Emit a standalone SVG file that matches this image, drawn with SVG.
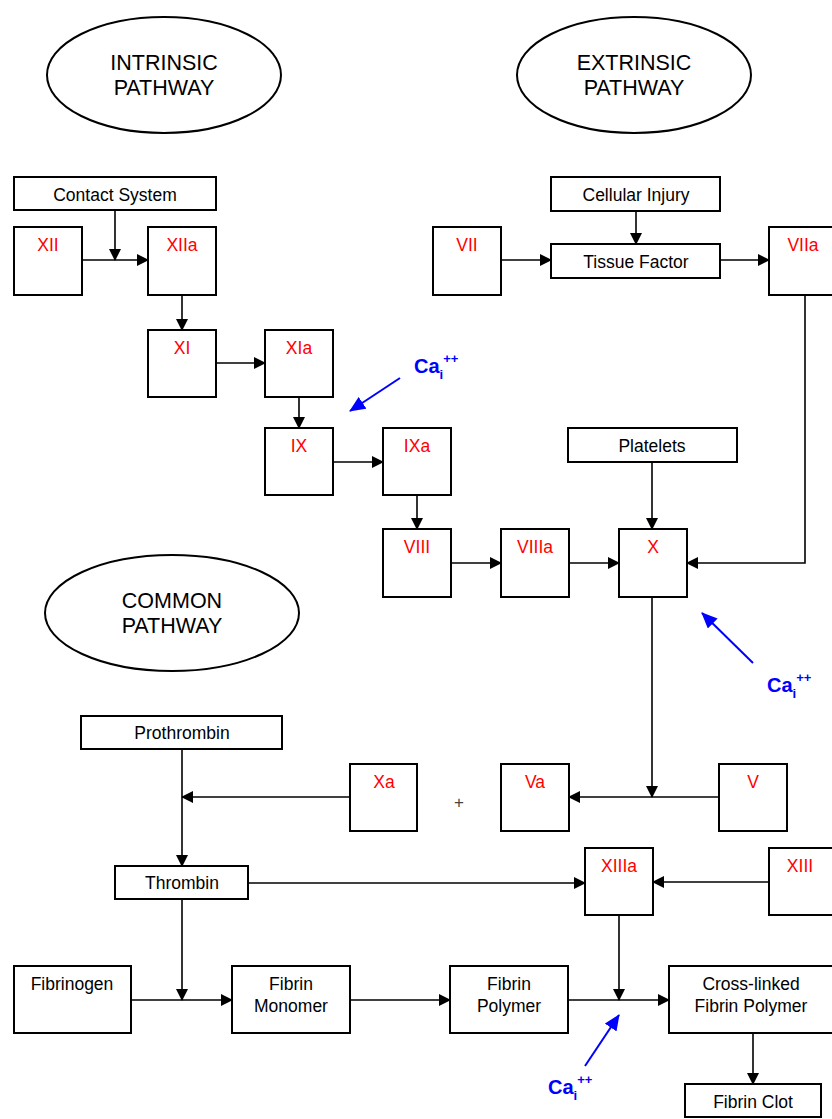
<svg xmlns="http://www.w3.org/2000/svg" width="832" height="1119" viewBox="0 0 832 1119">
<style>
.b{fill:#fff;stroke:#000;stroke-width:2}
.e{fill:#fff;stroke:#000;stroke-width:2}
.t{font-family:"Liberation Sans",Arial,sans-serif;font-size:17.5px;fill:#000;text-anchor:middle}
.r{font-family:"Liberation Sans",Arial,sans-serif;font-size:17.5px;fill:#ff0000;text-anchor:middle}
.h{font-family:"Liberation Sans",Arial,sans-serif;font-size:21.5px;fill:#000;text-anchor:middle}
.ca{font-family:"Liberation Sans",Arial,sans-serif;font-size:20px;font-weight:bold;fill:#0000ff}
.cs{font-family:"Liberation Sans",Arial,sans-serif;font-size:13px;font-weight:bold;fill:#0000ff}
.l{fill:none;stroke:#000;stroke-width:1.6}
.lb{fill:none;stroke:#0000ff;stroke-width:2}
</style>
<defs>
<marker id="a" markerUnits="userSpaceOnUse" markerWidth="12" markerHeight="12" refX="11" refY="6" orient="auto"><path d="M0,0 L12,6 L0,12 Z" fill="#000"/></marker>
<marker id="ab" markerUnits="userSpaceOnUse" markerWidth="16" markerHeight="14" refX="15" refY="7" orient="auto"><path d="M0,0 L16,7 L0,14 Z" fill="#0000ff"/></marker>
</defs>
<rect width="832" height="1119" fill="#fff"/>
<g id="intrinsic-pathway"><ellipse class="e" cx="164" cy="75" rx="117" ry="58"/><text class="h" x="164" y="70">INTRINSIC</text><text class="h" x="164" y="95">PATHWAY</text></g>
<g id="extrinsic-pathway"><ellipse class="e" cx="634" cy="75" rx="117" ry="58"/><text class="h" x="634" y="70">EXTRINSIC</text><text class="h" x="634" y="95">PATHWAY</text></g>
<g id="common-pathway"><ellipse class="e" cx="172" cy="613" rx="127" ry="58"/><text class="h" x="172" y="608">COMMON</text><text class="h" x="172" y="633">PATHWAY</text></g>

<g id="contact-system"><rect class="b" x="14" y="177" width="202" height="33"/><text class="t" x="115" y="201">Contact System</text></g>
<g id="XII"><rect class="b" x="14" y="227" width="68" height="68"/><text class="r" x="48" y="251">XII</text></g>
<g id="XIIa"><rect class="b" x="148" y="227" width="68" height="68"/><text class="r" x="182" y="251">XIIa</text></g>
<g id="XI"><rect class="b" x="148" y="330" width="68" height="67"/><text class="r" x="182" y="354">XI</text></g>
<g id="XIa"><rect class="b" x="265" y="330" width="68" height="67"/><text class="r" x="299" y="354">XIa</text></g>
<g id="IX"><rect class="b" x="265" y="428" width="68" height="67"/><text class="r" x="299" y="452">IX</text></g>
<g id="IXa"><rect class="b" x="383" y="428" width="68" height="67"/><text class="r" x="417" y="452">IXa</text></g>
<g id="VIII"><rect class="b" x="383" y="529" width="68" height="68"/><text class="r" x="417" y="553">VIII</text></g>
<g id="VIIIa"><rect class="b" x="501" y="529" width="68" height="68"/><text class="r" x="535" y="553">VIIIa</text></g>
<g id="X"><rect class="b" x="619" y="529" width="68" height="68"/><text class="r" x="653" y="553">X</text></g>
<g id="platelets"><rect class="b" x="568" y="428" width="169" height="34"/><text class="t" x="652" y="452">Platelets</text></g>

<g id="cellular-injury"><rect class="b" x="551" y="177" width="169" height="34"/><text class="t" x="636" y="201">Cellular Injury</text></g>
<g id="VII"><rect class="b" x="433" y="227" width="68" height="68"/><text class="r" x="467" y="251">VII</text></g>
<g id="tissue-factor"><rect class="b" x="551" y="244" width="169" height="34"/><text class="t" x="636" y="268">Tissue Factor</text></g>
<g id="VIIa"><rect class="b" x="769" y="227" width="70" height="68"/><text class="r" x="803" y="251">VIIa</text></g>

<g id="prothrombin"><rect class="b" x="81" y="716" width="201" height="33"/><text class="t" x="182" y="739">Prothrombin</text></g>
<g id="Xa"><rect class="b" x="350" y="764" width="67" height="67"/><text class="r" x="384" y="788">Xa</text></g>
<g id="plus"><text class="t" x="459" y="808" style="font-size:17px;fill:#444">+</text></g>
<g id="Va"><rect class="b" x="501" y="764" width="68" height="67"/><text class="r" x="535" y="788">Va</text></g>
<g id="V"><rect class="b" x="719" y="764" width="68" height="67"/><text class="r" x="753" y="788">V</text></g>
<g id="thrombin"><rect class="b" x="115" y="866" width="133" height="33"/><text class="t" x="182" y="889">Thrombin</text></g>
<g id="XIIIa"><rect class="b" x="585" y="848" width="68" height="67"/><text class="r" x="619" y="872">XIIIa</text></g>
<g id="XIII"><rect class="b" x="769" y="848" width="70" height="67"/><text class="r" x="800" y="872">XIII</text></g>
<g id="fibrinogen"><rect class="b" x="14" y="966" width="117" height="67"/><text class="t" x="72" y="990">Fibrinogen</text></g>
<g id="fibrin-monomer"><rect class="b" x="232" y="966" width="118" height="67"/><text class="t" x="291" y="990">Fibrin</text><text class="t" x="291" y="1012">Monomer</text></g>
<g id="fibrin-polymer"><rect class="b" x="450" y="966" width="118" height="67"/><text class="t" x="509" y="990">Fibrin</text><text class="t" x="509" y="1012">Polymer</text></g>
<g id="crosslinked"><rect class="b" x="669" y="966" width="168" height="67"/><text class="t" x="751" y="990">Cross-linked</text><text class="t" x="751" y="1012">Fibrin Polymer</text></g>
<g id="fibrin-clot"><rect class="b" x="685" y="1084" width="136" height="33"/><text class="t" x="753" y="1108">Fibrin Clot</text></g>

<g id="calcium-labels">
<text class="ca" x="414" y="373">Ca<tspan class="cs" dy="6">i</tspan><tspan class="cs" dy="-16">++</tspan></text>
<text class="ca" x="767" y="692">Ca<tspan class="cs" dy="6">i</tspan><tspan class="cs" dy="-16">++</tspan></text>
<text class="ca" x="548" y="1094">Ca<tspan class="cs" dy="6">i</tspan><tspan class="cs" dy="-16">++</tspan></text>
</g>

<g id="connectors">
<line class="l" x1="82" y1="260" x2="148" y2="260" marker-end="url(#a)"/>
<line class="l" x1="115" y1="210" x2="115" y2="260" marker-end="url(#a)"/>
<line class="l" x1="182" y1="295" x2="182" y2="330" marker-end="url(#a)"/>
<line class="l" x1="216" y1="363" x2="265" y2="363" marker-end="url(#a)"/>
<line class="l" x1="299" y1="397" x2="299" y2="428" marker-end="url(#a)"/>
<line class="l" x1="333" y1="462" x2="383" y2="462" marker-end="url(#a)"/>
<line class="l" x1="417" y1="495" x2="417" y2="529" marker-end="url(#a)"/>
<line class="l" x1="451" y1="563" x2="501" y2="563" marker-end="url(#a)"/>
<line class="l" x1="569" y1="563" x2="619" y2="563" marker-end="url(#a)"/>
<line class="l" x1="652" y1="462" x2="652" y2="529" marker-end="url(#a)"/>
<polyline class="l" points="805,295 805,563 687,563" marker-end="url(#a)"/>
<line class="l" x1="501" y1="260" x2="551" y2="260" marker-end="url(#a)"/>
<line class="l" x1="636" y1="211" x2="636" y2="244" marker-end="url(#a)"/>
<line class="l" x1="720" y1="260" x2="769" y2="260" marker-end="url(#a)"/>
<line class="l" x1="652" y1="597" x2="652" y2="797" marker-end="url(#a)"/>
<line class="l" x1="719" y1="797" x2="569" y2="797" marker-end="url(#a)"/>
<line class="l" x1="350" y1="797" x2="182" y2="797" marker-end="url(#a)"/>
<line class="l" x1="182" y1="749" x2="182" y2="866" marker-end="url(#a)"/>
<line class="l" x1="248" y1="883" x2="585" y2="883" marker-end="url(#a)"/>
<line class="l" x1="769" y1="882" x2="653" y2="882" marker-end="url(#a)"/>
<line class="l" x1="182" y1="899" x2="182" y2="1000" marker-end="url(#a)"/>
<line class="l" x1="131" y1="1000" x2="232" y2="1000" marker-end="url(#a)"/>
<line class="l" x1="350" y1="1000" x2="450" y2="1000" marker-end="url(#a)"/>
<line class="l" x1="568" y1="1000" x2="669" y2="1000" marker-end="url(#a)"/>
<line class="l" x1="619" y1="915" x2="619" y2="1000" marker-end="url(#a)"/>
<line class="l" x1="753" y1="1033" x2="753" y2="1084" marker-end="url(#a)"/>
<line class="lb" x1="400" y1="378" x2="350" y2="411" marker-end="url(#ab)"/>
<line class="lb" x1="753" y1="663" x2="702" y2="613" marker-end="url(#ab)"/>
<line class="lb" x1="585" y1="1066" x2="619" y2="1015" marker-end="url(#ab)"/>
</g>
</svg>
